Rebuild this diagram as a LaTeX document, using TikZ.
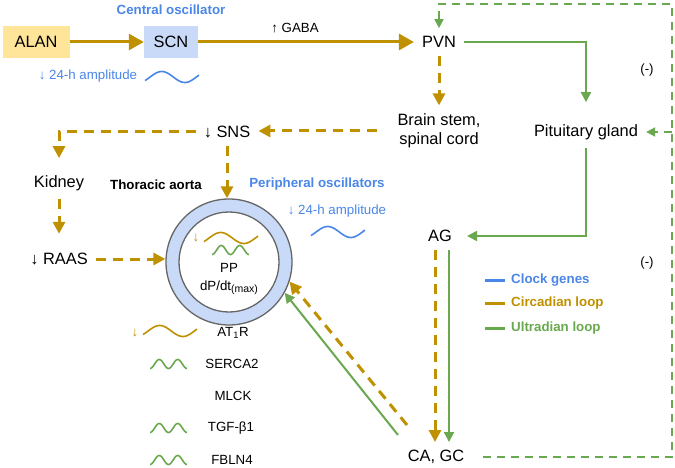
\documentclass[tikz,border=0pt]{standalone}
\usepackage{fontspec}
\setmainfont{Liberation Sans}
\usetikzlibrary{arrows.meta}
\usetikzlibrary{positioning}
\tikzset{>=latex}
\definecolor{gold}{HTML}{BF9000}
\definecolor{grn}{HTML}{6AA84F}
\definecolor{blu}{HTML}{4A86E8}
\definecolor{ltblue}{HTML}{C9DAF8}
\definecolor{ltyellow}{HTML}{FFE599}
\definecolor{ringgray}{HTML}{666666}
\newcommand\mainsize{\fontsize{16.4}{19.5}\selectfont}
\newcommand\smallsize{\fontsize{13.3}{16}\selectfont}
% slow (24-h) wave and fast (ultradian) wave: colour, left x, mid y
\newcommand\slowwave[3]{\draw[#1,line width=1.6pt] plot[domain=0:1,samples=50,smooth] ({#2+54*\x},{#3-5.5*sin(420*\x-40)});}
\newcommand\fastwave[3]{\draw[#1,line width=1.6pt] plot[domain=0:1,samples=50,smooth] ({#2+37*\x},{#3-4.5*sin(720*\x-90)});}
\tikzstyle{txt}=[font=\mainsize,inner sep=8pt]
\tikzstyle{small txt}=[font=\smallsize,inner sep=2pt]
\tikzstyle{head}=[font=\smallsize\bfseries,inner sep=2pt]
\tikzstyle{clockbox}=[font=\mainsize,minimum height=32pt,inner sep=0pt]
\tikzstyle{gold line}=[gold,line width=3pt,-{Triangle[length=15pt,width=16pt]}]
\tikzstyle{gold dash}=[gold,line width=3pt,dash pattern=on 10pt off 7pt,-{Triangle[length=12pt,width=12pt]}]
\tikzstyle{green line}=[grn,line width=2pt,-{Triangle[length=10pt,width=10pt]}]
\tikzstyle{green dash}=[grn,line width=1.8pt,dash pattern=on 8pt off 6pt,-{Triangle[length=9pt,width=9pt]}]

\begin{document}
\begin{tikzpicture}[x=1pt,y=-1pt]
  \useasboundingbox (0,0) rectangle (675,468);
  % central oscillator
  \node[clockbox,fill=ltyellow,minimum width=67pt] (alan) at (36,42) {ALAN};
  \node[clockbox,fill=ltblue,minimum width=54pt] (scn) at (171,42) {SCN};
  \node[head,text=blu] (central) at (171,10) {Central oscillator};
  \node[small txt,text=blu] (ampc) at (88,76) {↓ 24-h amplitude};
  \slowwave{blu}{145}{77}
  \node[small txt] (gaba) at (295,28) {↑ GABA};
  \node[txt] (pvn) at (439,42) {PVN};
  \node[txt,align=center] (brain) at (439,131) {Brain stem,\\spinal cord};
  \node[txt] (pit) at (586,132) {Pituitary gland};
  \node[txt] (sns) at (227,132) {↓ SNS};
  \node[txt] (kidney) at (59,183) {Kidney};
  \node[txt] (raas) at (59,259) {↓ RAAS};
  \node[txt] (ag) at (440,236) {AG};
  \node[txt] (cagc) at (436,457) {CA, GC};
  \node[small txt] (minusA) at (647,70) {(-)};
  \node[small txt] (minusB) at (647,263) {(-)};
  % thoracic aorta
  \node[head] (thoracic) at (156,185) {Thoracic aorta};
  \node[head,text=blu] (periph) at (317,184) {Peripheral oscillators};
  \node[small txt,text=blu] (ampp) at (337,211) {↓ 24-h amplitude};
  \slowwave{blu}{311}{232}
  \node[circle,draw=ringgray,line width=1.3pt,fill=ltblue,minimum size=126pt,inner sep=0pt] (aorta) at (229,262) {};
  \node[circle,draw=ringgray,line width=1.3pt,fill=white,minimum size=100pt,inner sep=0pt] (lumen) at (aorta) {};
  \node[small txt,text=gold] (downin) at (196,238) {↓};
  \slowwave{gold}{204}{238}
  \fastwave{grn}{212}{250}
  \node[small txt] (pp) at (229,268) {PP};
  \node[small txt] (dpdt) at (229,288) {dP/dt\raisebox{-2pt}{\fontsize{10.5}{12}\selectfont(max)}};
  % genes
  \node[small txt,text=gold] (downat) at (135,333) {↓};
  \slowwave{gold}{143}{331}
  \node[small txt] (at1r) at (233,333) {AT\textsubscript{1}R};
  \fastwave{grn}{150}{364}
  \node[small txt] (serca) at (232,364) {SERCA2};
  \node[small txt] (mlck) at (233,396) {MLCK};
  \fastwave{grn}{150}{428}
  \node[small txt] (tgf) at (231,428) {TGF-β1};
  \fastwave{grn}{150}{460}
  \node[small txt] (fbln) at (232,460) {FBLN4};
  % legend
  \node[head,text=blu,anchor=west] (lgclock) at (509,280) {Clock genes};
  \node[head,text=gold,anchor=west] (lgcirc) at (509,303) {Circadian loop};
  \node[head,text=grn,anchor=west] (lgultra) at (509,328) {Ultradian loop};
  \draw[blu,line width=3pt] ([xshift=-24pt]lgclock.west) -- ++(20,0);
  \draw[gold,line width=3pt] ([xshift=-24pt]lgcirc.west) -- ++(20,0);
  \draw[grn,line width=3pt] ([xshift=-24pt]lgultra.west) -- ++(20,0);

  % circadian loop
  \draw[gold line] (alan) -- (scn);
  \draw[gold line] (scn.east) -- (scn.east -| pvn.west);
  \draw[gold dash] (pvn) -- (brain);
  \draw[gold dash] ([xshift=-12pt]brain.west) -- (brain.west -| sns.east);
  \draw[gold dash,shorten >=9pt] (sns.west) -| (kidney.north);
  \draw[gold dash] (sns.south) -- (sns.south |- aorta.north);
  \draw[gold dash,shorten >=11pt] (kidney) -- (raas);
  \draw[gold dash] (raas.east) -- (raas.east -| aorta.west);
  \draw[gold dash] ([xshift=-5pt]ag.south) -- ([xshift=-5pt]ag.south |- cagc.north);
  \coordinate (goldfoot) at (407,425);
  \draw[gold dash] (goldfoot) -- (aorta.-18);
  % ultradian loop
  \draw[green line,shorten >=14pt] (pvn.east) -| (pit.north);
  \draw[green line,shorten >=7pt] (pit.south) |- (ag.east);
  \draw[green line] ([xshift=9pt]ag.south) -- ([xshift=9pt]ag.south |- cagc.north);
  \coordinate (greenfoot) at (398,435);
  \draw[green line] (greenfoot) -- (aorta.-29);
  \coordinate (fbtop) at (672,4);
  \coordinate (fbpit) at (fbtop |- pit.east);
  \draw[green dash,shorten <=11pt] (cagc.east) -| (fbtop) -| (pvn.north);
  \draw[green dash] (fbpit) -- (pit.east);
\end{tikzpicture}
\end{document}
